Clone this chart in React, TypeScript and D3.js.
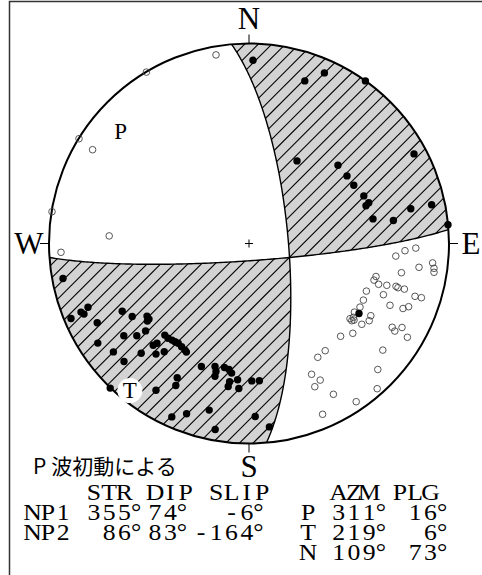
import React, { useEffect, useRef } from 'react';
import * as d3 from 'd3';

const W = 482;
const H = 575;

// nodal planes
const planeNames = ['NP1', 'NP2'];
const strikes = [355, 86];
const dips = [74, 83];
const slips = [-6, -164];

// principal axes
const axisNames = ['P', 'T', 'N'];
const axisAzm = [311, 219, 109];
const axisPlg = [16, 6, 73];

const compassLabels = ['N', 'E', 'S', 'W'];
const compassAzm = [0, 90, 180, 270];

const caption = 'P波初動による';
const tableHeader = '    STR DIP SLIP    AZM PLG';

// first motions, net coordinates (east, north) in % of the net radius
const pushes: [number, number][] = [
  [2, 91.6], [27.9, 81.3], [37.7, 85.3], [58.2, 81.3], [24, 41.3], [44.5, 39.1], [49, 33.8],
  [52.4, 29.1], [82.5, 44.8], [57.4, 23.8], [59.9, 20.4], [58.5, 18.9], [62, 12.3], [72.2, 11.5],
  [80.9, 17.4], [91.3, 19.4], [99.5, 9.4],
  [55, -35],
  [-93, -17.5], [-89, -37.5], [-84, -34.3], [-82.5, -35.3], [-80.5, -31.9], [-75.9, -39.6],
  [-75.6, -49.8], [-67.8, -54.2], [-63.4, -33.9], [-62.6, -46.1], [-62.5, -59], [-58.4, -36.5],
  [-56.1, -46.1], [-53.9, -54.9], [-51.7, -43.7], [-51, -36.3], [-50, -37.8], [-50.8, -38.8],
  [-47.9, -50.9], [-46, -49.9], [-46.5, -55.3], [-42.4, -54.1], [-42.1, -45.8], [-40.5, -47.4],
  [-38.5, -48.3], [-37, -49.1], [-35.4, -49.9], [-33.7, -51.6], [-32, -53.3], [-31.3, -54.3],
  [-23.8, -61.5], [-17, -61.5], [-16.5, -64], [-17, -66.4], [-12.3, -62], [-10, -63], [-8.7, -64.8],
  [-9.7, -69.1], [-10.4, -71.5], [-5.7, -68.1], [-5.1, -72.5], [1.4, -68.7], [5.2, -68.6],
  [-35.9, -67.1], [-36.6, -71], [-46.5, -73.4], [-69.4, -72.3], [-38.6, -86.7], [-31.2, -85.1],
  [-19.9, -83.3], [-16.9, -93], [3.1, -86.5], [10.2, -91.7],
];

const pulls: [number, number][] = [
  [-16.5, 94.3], [-51.3, 85.7], [-85, 52.4], [-78.2, 46.9], [-98.5, 15.9], [-69.9, 3.8], [-94, -4.4],
  [73.4, -6.3], [78, -3.6], [83.4, -2.3], [85, -11.9], [91.8, -9.7], [92.5, -12.4], [92.5, -14.4],
  [76.2, -14.6], [63.5, -16.5], [62.5, -18.3], [64.8, -20.4], [68.9, -20.9], [73.5, -21.4],
  [74.5, -22.1], [77.7, -22.8], [58.7, -23.8], [67.2, -25.6], [83, -26.4], [86.2, -27.1],
  [57.2, -28.3], [70.5, -30.9], [79.8, -31.6], [77, -32.5], [55.5, -31.8], [52.7, -34.3],
  [52.2, -36.9], [50.5, -37.6], [51.4, -38.6], [52.5, -38.3], [60.9, -36.1], [60.1, -38.6],
  [56.4, -40.4], [51.9, -44.9], [45.8, -46.4], [71.6, -41.9], [72.9, -43.8], [76.5, -42],
  [79.2, -46.9], [38.1, -53.6], [34.4, -56.9], [66.9, -53.3], [64.4, -63], [31.3, -65.4],
  [35.6, -68.3], [32.9, -71.6], [64.1, -72.6], [42.2, -75.4], [53.6, -79.1], [36.8, -85.4],
];

const rad = Math.PI / 180;
type V3 = [number, number, number];
const dot = (a: V3, b: V3) => a[0] * b[0] + a[1] * b[1] + a[2] * b[2];
const cross = (a: V3, b: V3): V3 => [
  a[1] * b[2] - a[2] * b[1],
  a[2] * b[0] - a[0] * b[2],
  a[0] * b[1] - a[1] * b[0],
];

// lower hemisphere equal-area, returns [east, north] in % of radius
function project(az: number, plg: number): [number, number] {
  const r = Math.SQRT2 * Math.sin(((90 - plg) / 2) * rad) * 100;
  return [r * Math.sin(az * rad), r * Math.cos(az * rad)];
}

function projectVec(v: V3): [number, number] {
  let [n, e, d] = v;
  if (d < 0) { n = -n; e = -e; d = -d; }
  return project(Math.atan2(e, n) / rad, Math.asin(Math.min(1, d)) / rad);
}

function planeBasis(i: number): [V3, V3] {
  const f = strikes[i] * rad;
  const dp = dips[i] * rad;
  const s: V3 = [Math.cos(f), Math.sin(f), 0];
  const d: V3 = [Math.cos(f + Math.PI / 2) * Math.cos(dp), Math.sin(f + Math.PI / 2) * Math.cos(dp), Math.sin(dp)];
  return [s, d];
}

function planePoint(i: number, t: number): [number, number] {
  const [s, d] = planeBasis(i);
  const c = Math.cos(t * rad), sn = Math.sin(t * rad);
  return projectVec([c * s[0] + sn * d[0], c * s[1] + sn * d[1], c * s[2] + sn * d[2]]);
}

function Beachball() {
  const ref = useRef<SVGSVGElement>(null);

  useEffect(() => {
    const svg = d3.select(ref.current);
    svg.selectAll('*').remove();

    const R = 200;
    const cx = 249;
    const cy = 243.5;
    const x = d3.scaleLinear().domain([-100, 100]).range([cx - R, cx + R]);
    const y = d3.scaleLinear().domain([-100, 100]).range([cy + R, cy - R]);
    const line = d3.line<[number, number]>().x((p) => x(p[0])).y((p) => y(p[1]));
    const serif = '"Liberation Serif", "Times New Roman", serif';

    // frame
    svg.append('path')
      .attr('d', `M9.5,${H} V1.5 H${W}`)
      .attr('fill', 'none')
      .attr('stroke', '#333')
      .attr('stroke-width', 1.5);

    // intersection of the two planes (null axis)
    const [s1, d1] = planeBasis(0);
    const [s2, d2] = planeBasis(1);
    let L = cross(cross(s1, d1), cross(s2, d2));
    const ln = Math.hypot(L[0], L[1], L[2]);
    L = [L[0] / ln, L[1] / ln, L[2] / ln];
    if (L[2] < 0) L = [-L[0], -L[1], -L[2]];
    const t1 = Math.atan2(dot(L, d1), dot(L, s1)) / rad;
    const t2 = Math.atan2(dot(L, d2), dot(L, s2)) / rad;

    const ne: [number, number][] = [
      ...d3.range(0, t1, 1).map((t) => planePoint(0, t)),
      planePoint(0, t1),
      ...d3.range(t2, 0, -1).map((t) => planePoint(1, t)),
      planePoint(1, 0),
      ...d3.range(strikes[1], strikes[0] - 360, -1).map((a) => project(a, 0)),
    ];
    const sw: [number, number][] = [
      ...d3.range(t1, 180, 1).map((t) => planePoint(0, t)),
      planePoint(0, 180),
      ...d3.range((strikes[0] + 180) % 360, strikes[1] + 180, 1).map((a) => project(a, 0)),
      ...d3.range(180, t2, -1).map((t) => planePoint(1, t)),
      planePoint(1, t2),
    ];

    const defs = svg.append('defs');
    const clip = defs.append('clipPath').attr('id', 'comp');
    [ne, sw].forEach((poly) => clip.append('path').attr('d', line(poly) + 'Z'));

    // compressional quadrants
    [ne, sw].forEach((poly) => {
      svg.append('path').attr('d', line(poly) + 'Z').attr('fill', '#d3d3d3');
    });

    // hatching
    const ang = 45 * rad;
    const gap = 9.6;
    const u = [Math.cos(ang), -Math.sin(ang)];
    const nv = [Math.sin(ang), Math.cos(ang)];
    svg.append('g')
      .attr('clip-path', 'url(#comp)')
      .selectAll('line')
      .data(d3.range(-Math.ceil(R / gap) - 2, Math.ceil(R / gap) + 3))
      .join('line')
      .attr('x1', (k) => cx + k * gap * nv[0] - 300 * u[0])
      .attr('y1', (k) => cy + k * gap * nv[1] - 300 * u[1])
      .attr('x2', (k) => cx + k * gap * nv[0] + 300 * u[0])
      .attr('y2', (k) => cy + k * gap * nv[1] + 300 * u[1])
      .attr('stroke', '#000')
      .attr('stroke-width', 1.1);

    // nodal planes
    planeNames.forEach((_, i) => {
      svg.append('path')
        .attr('d', line(d3.range(0, 180.5, 1).map((t) => planePoint(i, t))))
        .attr('fill', 'none')
        .attr('stroke', '#000')
        .attr('stroke-width', 1.4);
    });

    // net outline
    svg.append('circle')
      .attr('cx', x(0)).attr('cy', y(0)).attr('r', R)
      .attr('fill', 'none')
      .attr('stroke', '#000')
      .attr('stroke-width', 2);

    // compass ticks and labels
    const offs: Record<string, number> = { N: 25, E: 22, S: 23, W: 20 };
    compassLabels.forEach((lab, i) => {
      const a = compassAzm[i] * rad;
      svg.append('line')
        .attr('x1', cx + R * Math.sin(a)).attr('y1', cy - R * Math.cos(a))
        .attr('x2', cx + (R + 9) * Math.sin(a)).attr('y2', cy - (R + 9) * Math.cos(a))
        .attr('stroke', '#000').attr('stroke-width', 1);
      const rr = R + offs[lab];
      svg.append('text')
        .attr('x', cx + rr * Math.sin(a))
        .attr('y', cy - rr * Math.cos(a))
        .attr('dy', '0.34em')
        .attr('text-anchor', 'middle')
        .attr('font-family', serif)
        .attr('font-size', 31)
        .text(lab);
    });

    // centre cross
    svg.append('path')
      .attr('d', `M${cx - 4},${cy} H${cx + 4} M${cx},${cy - 4} V${cy + 4}`)
      .attr('stroke', '#000').attr('stroke-width', 1);

    // dilatations
    svg.append('g').selectAll('circle').data(pulls).join('circle')
      .attr('cx', (p) => x(p[0])).attr('cy', (p) => y(p[1])).attr('r', 3.3)
      .attr('fill', 'none').attr('stroke', '#444').attr('stroke-width', 0.9);

    // compressions
    svg.append('g').selectAll('circle').data(pushes).join('circle')
      .attr('cx', (p) => x(p[0])).attr('cy', (p) => y(p[1])).attr('r', 3.7)
      .attr('fill', '#000');

    // P and T axes
    axisNames.forEach((nm, i) => {
      if (nm === 'N') return;
      const [e, n] = project(axisAzm[i], axisPlg[i]);
      if (nm === 'T') {
        svg.append('circle').attr('cx', x(e)).attr('cy', y(n)).attr('r', 12.5).attr('fill', '#fff');
      }
      svg.append('text')
        .attr('x', x(e)).attr('y', y(n))
        .attr('dy', '0.33em')
        .attr('text-anchor', 'middle')
        .attr('font-family', serif)
        .attr('font-size', 23)
        .text(nm);
    });

    // caption
    const cap = svg.append('text')
      .attr('x', 33).attr('y', 474)
      .attr('font-family', '"Noto Sans CJK JP", sans-serif')
      .attr('font-size', 21);
    cap.append('tspan').text(caption.slice(0, 1));
    cap.append('tspan').attr('dx', 5).text(caption.slice(1));

    // parameter table on fixed character cells; the degree mark sits
    // at the left of its cell, right after the number
    const cw = 15.3;
    const x0 = 25;
    const sx = 1.12;
    const pad = (v: number, w: number) => String(v).padStart(w);
    const rows: string[] = [tableHeader];
    axisNames.forEach((a, i) => {
      const left = i < planeNames.length
        ? `${planeNames[i]} ${pad(strikes[i], 3)}°${pad(dips[i], 2)}°${pad(slips[i], 4)}°`
        : ' '.repeat(16);
      rows.push(`${left}  ${a} ${pad(axisAzm[i], 3)}° ${pad(axisPlg[i], 2)}°`);
    });
    rows.forEach((r, j) => {
      const cells = r.split('').map((c, k) => ({ c, k })).filter((d) => d.c !== ' ');
      const cx0 = (d: { c: string; k: number }) =>
        d.c === '°' ? x0 + d.k * cw + 4 : x0 + (d.k + 0.5) * cw;
      svg.append('text')
        .attr('transform', `scale(${sx},1)`)
        .attr('y', 500 + j * 20)
        .attr('x', cells.map((d) => (cx0(d) / sx).toFixed(2)).join(' '))
        .attr('text-anchor', 'middle')
        .attr('font-family', serif)
        .attr('font-size', 23)
        .text(cells.map((d) => d.c).join(''));
    });
  }, []);

  return <svg ref={ref} width={W} height={H} style={{ position: 'absolute', left: 0, top: 0, background: '#fff' }} />;
}

export default function App() {
  return <Beachball />;
}
